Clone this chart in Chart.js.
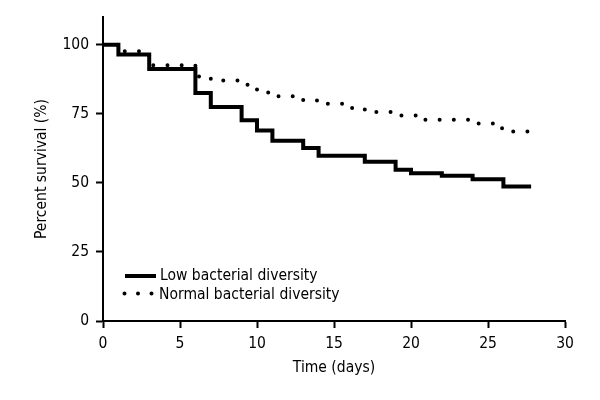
<!DOCTYPE html>
<html>
<head>
<meta charset="utf-8">
<script src="https://cdn.jsdelivr.net/npm/chart.js@4"></script>
<style>
  html, body { margin: 0; padding: 0; background: #fff; }
  #wrap { width: 600px; height: 400px; }
</style>
</head>
<body>
<div id="wrap"><canvas id="myChart" width="600" height="400"></canvas></div>
<script>
// Kaplan-Meier steps
const lowDays = [0, 1, 3, 6, 7, 9, 10, 11, 13, 14, 17, 19, 20, 22, 24, 26, 27.8];
const lowSurvival = [100, 96.4, 91.2, 82.5, 77.4, 72.6, 68.9, 65.2, 62.6, 59.8, 57.6, 54.7, 53.5, 52.6, 51.3, 48.7, 48.7];

const normalDays = [0, 1, 3, 6, 7, 9, 10, 10.8, 13, 14, 16, 17, 19, 20.7, 24, 25.5, 26, 27.8];
const normalSurvival = [100, 97.6, 92.5, 88.5, 87.0, 85.5, 82.7, 81.3, 79.8, 78.6, 77.1, 75.6, 74.4, 72.8, 71.5, 69.7, 68.6, 68.6];

const xTicks = [0, 5, 10, 15, 20, 25, 30];
const yTicks = [0, 25, 50, 75, 100];
const seriesNames = ["Low bacterial diversity", "Normal bacterial diversity"];

const FONT = "'Liberation Sans Narrow', 'DejaVu Sans Condensed', 'Arial Narrow', sans-serif";
const FONT_SIZE = 15.5;

const toPoints = (xs, ys) => xs.map((x, i) => ({ x: x, y: ys[i] }));

// legend drawn by hand: bottom-left inside the plot
const legendPlugin = {
    id: "kmLegend",
    afterDraw(chart) {
        const ctx = chart.ctx;
        ctx.save();
        ctx.strokeStyle = "#000";
        ctx.lineWidth = 4;

        ctx.beginPath();
        ctx.moveTo(125, 276);
        ctx.lineTo(156, 276);
        ctx.stroke();

        ctx.setLineDash([0, 13.5]);
        ctx.lineCap = "round";
        ctx.beginPath();
        ctx.moveTo(124.5, 293.5);
        ctx.lineTo(156, 293.5);
        ctx.stroke();
        ctx.setLineDash([]);

        ctx.fillStyle = "#000";
        ctx.font = FONT_SIZE + "px " + FONT;
        ctx.textBaseline = "middle";
        ctx.fillText(seriesNames[0], 160, 276);
        ctx.fillText(seriesNames[1], 159, 295);
        ctx.restore();
    }
};

const axisCommon = {
    type: "linear",
    border: { display: true, color: "#000", width: 2 },
    grid: { display: true, drawOnChartArea: false, drawTicks: true, tickLength: 7, tickWidth: 2, tickColor: "#000" },
};

const ctx = document.getElementById("myChart");
const myChart = new Chart(ctx, {
    type: "line",
    data: {
        datasets: [
            {
                label: seriesNames[1],
                data: toPoints(normalDays, normalSurvival),
                stepped: true,
                borderColor: "#000",
                borderWidth: 4,
                borderDash: [0, 14.2],
                borderCapStyle: "round",
                pointRadius: 0,
                fill: false,
            },
            {
                label: seriesNames[0],
                data: toPoints(lowDays, lowSurvival),
                stepped: true,
                borderColor: "#000",
                borderWidth: 4,
                borderCapStyle: "butt",
                pointRadius: 0,
                fill: false,
            },
        ]
    },
    options: {
        responsive: false,
        animation: false,
        layout: { padding: { top: 17, right: 35, left: 0, bottom: 0 } },
        plugins: {
            legend: { display: false },
            tooltip: { enabled: false },
        },
        scales: {
            x: {
                ...axisCommon,
                min: 0,
                max: 30,
                afterBuildTicks: (scale) => { scale.ticks = xTicks.map(v => ({ value: v })); },
                afterFit: (scale) => { scale.height = 79; },
                ticks: { color: "#000", font: { family: FONT, size: FONT_SIZE }, padding: 7, maxRotation: 0 },
                title: { display: true, text: "Time (days)", color: "#000", font: { family: FONT, size: FONT_SIZE }, padding: { top: 0, bottom: 22.5 } },
            },
            y: {
                ...axisCommon,
                min: 0,
                max: 110,
                afterBuildTicks: (scale) => { scale.ticks = yTicks.map(v => ({ value: v })); },
                afterFit: (scale) => { scale.width = 103; },
                ticks: { color: "#000", font: { family: FONT, size: FONT_SIZE }, padding: 7 },
                title: { display: true, text: "Percent survival (%)", color: "#000", font: { family: FONT, size: FONT_SIZE }, padding: { top: 32.5, bottom: 0 } },
            },
        },
    },
    plugins: [legendPlugin],
});
</script>
</body>
</html>
